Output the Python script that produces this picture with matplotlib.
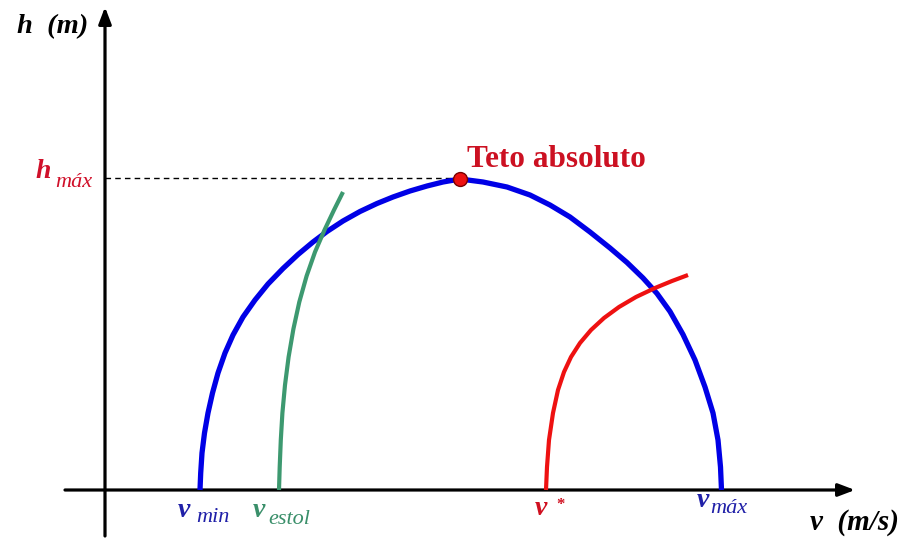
import matplotlib
matplotlib.use("Agg")
import matplotlib.pyplot as plt

# Curves (v, h in drawing units; origin at the axes crossing)
blue_v = [95, 95.7, 97, 99.5, 103, 107.5, 113, 120, 128, 138, 150, 163, 178, 193, 208, 222, 238, 255,
          272, 288, 305, 322, 338, 355,
          378, 402, 425, 445, 465, 485, 505, 522, 538, 552, 565, 578, 590, 600, 608, 613, 615.5, 616.5]
blue_h = [0, 17, 37, 57, 77, 97, 117, 137, 155, 173, 190, 206, 221.5, 235.5, 248, 258.5, 269, 278.5,
          286.5, 293, 299, 304, 308, 311,
          308, 303, 295, 285, 273, 258, 242, 227.5, 212, 196.5, 178.5, 155.5, 130, 103, 77, 50, 23, 0]
green_v = [174, 174.7, 175.8, 177.4, 180, 183.6, 188.4, 194.3, 201.6, 210, 219.5, 229, 238]
green_h = [0, 23, 50, 77, 105, 133, 161, 188, 214, 238, 260, 280, 298]
red_v = [441, 442, 444, 448, 453, 459, 466, 475, 486, 499, 514, 531, 550, 567, 583]
red_h = [0, 23, 50, 77, 100, 118, 133, 147, 160, 172, 183, 193, 202, 209, 215]
peak_v, peak_h = 355, 311

fig = plt.figure(figsize=(9.14, 5.38), dpi=100)
ax = fig.add_axes([0, 0, 1, 1])
ax.set_xlim(-105, 809)
ax.set_ylim(-48, 490)
ax.axis('off')

SERIF = 'Liberation Serif'

# axes with arrows
arrow = dict(arrowstyle='-|>,head_length=1.0,head_width=0.38', lw=2.3, color='black',
             shrinkA=0, shrinkB=0)
ax.annotate('', xy=(750, 0), xytext=(-40, 0), arrowprops=arrow)
ax.annotate('', xy=(0, 483), xytext=(0, -46), arrowprops=arrow)

# dashed line to h_max
ax.plot([0, peak_v], [peak_h + 1, peak_h + 1], ls=(0, (4, 3)), color='black', lw=1.0, zorder=2)

ax.plot(blue_v, blue_h, color='#0000e6', lw=3.8, solid_capstyle='butt', solid_joinstyle='round', zorder=3)
ax.plot(green_v, green_h, color='#3d9970', lw=3.0, solid_capstyle='butt', solid_joinstyle='round', zorder=4)
ax.plot(red_v, red_h, color='#ee1111', lw=3.0, solid_capstyle='butt', solid_joinstyle='round', zorder=4)
ax.plot([peak_v], [peak_h], 'o', ms=10, mfc='#ee1111', mec='#7a0000', mew=1.0, zorder=5)

ax.text(362, 323, 'Teto absoluto', color='#cc1122', fontsize=22.5,
        family=SERIF, fontweight='bold', ha='left', va='baseline')


def label(x, y, main, color, sub=None, sx=0, sy=0, sup=None, main_size=20, sub_size=16):
    ax.text(x, y, main, color=color, fontsize=main_size, family=SERIF, fontweight='bold',
            style='italic', ha='left', va='baseline')
    if sub:
        ax.text(sx, sy, sub, color=color, fontsize=sub_size, family=SERIF, style='italic',
                ha='left', va='baseline')
    if sup:
        ax.text(sx, sy, sup, color=color, fontsize=12, family=SERIF, fontweight='bold',
                ha='left', va='center')


label(73, -27, 'v', '#2020a8', sub='min', sx=91, sy=-32)
label(148, -27, 'v', '#3a8f6a', sub='estol', sx=163, sy=-34)
label(430, -25, 'v', '#d01020', sup='*', sx=451, sy=-15)
label(592, -17, 'v', '#2020a8', sub='máx', sx=605, sy=-23)
label(-70, 312, 'h', '#d0102a', sub='máx', sx=-50, sy=303)

ax.text(-88, 457, 'h  (m)', color='black', fontsize=20.5, family=SERIF,
        fontweight='bold', style='italic', ha='left', va='baseline')
ax.text(705, -40, 'v  (m/s)', color='black', fontsize=21, family=SERIF,
        fontweight='bold', style='italic', ha='left', va='baseline')

fig.savefig('out.png', dpi=100)
